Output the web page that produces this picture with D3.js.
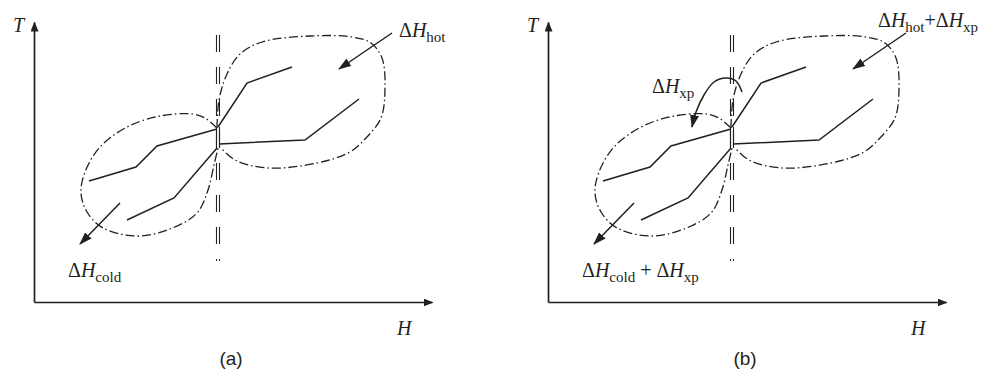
<!DOCTYPE html>
<html><head><meta charset="utf-8">
<script src="https://cdn.jsdelivr.net/npm/d3@7"></script>
<style>body{margin:0;background:#fff}</style>
</head><body>
<svg id="c" width="987" height="374"></svg>
<script>
// ---- data (H, T in schematic units) ----
const panelNames = ["(a)", "(b)"];
const hotUpper = [[184,175],[213,219],[258,235]];
const hotLower = [[185,158],[271,162],[325,203]];
const coldUpper = [[55,121],[102,135],[123,156],[183,173]];
const coldLower = [[93,82],[140,104],[183,154]];
const pinchH = [182.5, 185.5];
const pinchT = [41, 267];
const pinchSeg = [155, 175];
const hotEnvelope = [[183,174],[185,202],[193,228],[206,248],[228,260],[276,266],[318,265],[337,259],[348,244],[351,214],[347,184],[332,164],[316,150],[283,139],[234,134],[201,142],[187,154]];
const coldEnvelope = [[183,174],[171,184],[159,188],[126,186],[93,175],[66,155],[51,130],[47,109],[53,90],[69,74],[103,66],[136,73],[163,89],[174,112],[180,137],[184,154]];
const hotArrow = [[358,269],[305,233]];
const coldArrow = [[86,99],[46,58]];
const xpArrow = [[194,210],[188,221],[178,224],[166,220],[156,207],[148,190],[144,175]];
// label texts: [text, style] style: n normal, i italic, s subscript
const labelsA = [
  {pos:[365,265], parts:[["Δ","n"],["H","i"],["hot","s"]]},
  {pos:[34,25], parts:[["Δ","n"],["H","i"],["cold","s"]]}
];
const labelsB = [
  {pos:[330,275], parts:[["Δ","n"],["H","i"],["hot","s"],["+","n"],["Δ","n"],["H","i"],["xp","s"]]},
  {pos:[34,25], parts:[["Δ","n"],["H","i"],["cold","s"],[" + ","n"],["Δ","n"],["H","i"],["xp","s"]]},
  {pos:[104,209], parts:[["Δ","n"],["H","i"],["xp","s"]]}
];
const axisNames = ["T", "H"];

// ---- drawing ----
const svg = d3.select("#c");
const ink = "#231f20";
const x = d3.scaleLinear().domain([0,398]).range([34,432]);
const y = d3.scaleLinear().domain([0,280]).range([302,22]);

const defs = svg.append("defs");
defs.append("marker").attr("id","axh").attr("viewBox","0 0 10 8").attr("refX",9).attr("refY",4)
  .attr("markerWidth",10).attr("markerHeight",8).attr("markerUnits","userSpaceOnUse").attr("orient","auto")
  .append("path").attr("d","M0,0L10,4L0,8Z").attr("fill",ink);
defs.append("marker").attr("id","arh").attr("viewBox","0 0 13 9").attr("refX",12).attr("refY",4.5)
  .attr("markerWidth",13).attr("markerHeight",9).attr("markerUnits","userSpaceOnUse").attr("orient","auto")
  .append("path").attr("d","M0,0L13,4.5L0,9Z").attr("fill",ink);

const line = d3.line().x(d=>x(d[0])).y(d=>y(d[1]));
const smooth = d3.line().x(d=>x(d[0])).y(d=>y(d[1])).curve(d3.curveCatmullRom.alpha(0.5));

function label(g, l) {
  const t = g.append("text").attr("x", x(l.pos[0])).attr("y", y(l.pos[1]))
    .attr("font-family","'Liberation Serif', 'Times New Roman', serif").attr("fill", ink);
  let sub = false;
  l.parts.forEach(([txt, st]) => {
    const ts = t.append("tspan").text(txt).style("white-space","pre");
    if (st === "s") { ts.attr("font-size",15).attr("dy", sub ? 0 : 5); sub = true; }
    else { ts.attr("font-size",20).attr("dy", sub ? -5 : 0); sub = false; if (st==="i") ts.attr("font-style","italic"); }
  });
}

panelNames.forEach((name, pi) => {
  const g = svg.append("g").attr("transform", `translate(${pi*514},0)`);
  // axes
  const ax = g.append("g").attr("transform",`translate(0,${y(0)})`)
    .call(d3.axisBottom(x).tickValues([]).tickSizeOuter(0));
  const ay = g.append("g").attr("transform",`translate(${x(0)},0)`)
    .call(d3.axisLeft(y).tickValues([]).tickSizeOuter(0));
  [ax, ay].forEach(a => a.select(".domain").attr("stroke",ink).attr("stroke-width",1.7).attr("marker-end","url(#axh)"));
  g.append("text").attr("x", x(0)-21).attr("y", y(270)).text(axisNames[0])
    .attr("font-family","'Liberation Serif', serif").attr("font-style","italic").attr("font-size",20).attr("fill",ink);
  g.append("text").attr("x", x(363)).attr("y", y(-33)).text(axisNames[1])
    .attr("font-family","'Liberation Serif', serif").attr("font-style","italic").attr("font-size",20).attr("fill",ink);
  g.append("text").attr("x", x(197)).attr("y", y(-63)).attr("text-anchor","middle").text(name)
    .attr("font-family","'Liberation Sans', Arial, sans-serif").attr("font-size",19).attr("fill",ink);

  // pinch double dashed line
  pinchH.forEach(h => {
    g.append("path").attr("d", line([[h,pinchT[1]],[h,pinchT[0]]]))
      .attr("stroke",ink).attr("stroke-width",1.1).attr("fill","none").attr("stroke-dasharray","17 15");
    g.append("path").attr("d", line([[h,pinchSeg[1]],[h,pinchSeg[0]]]))
      .attr("stroke",ink).attr("stroke-width",1.1).attr("fill","none");
  });

  // composite curves
  [hotUpper, hotLower, coldUpper, coldLower].forEach(c => {
    g.append("path").attr("d", line(c)).attr("stroke",ink).attr("stroke-width",1.5).attr("fill","none");
  });

  // envelopes
  [hotEnvelope, coldEnvelope].forEach(e => {
    g.append("path").attr("d", smooth(e)).attr("stroke",ink).attr("stroke-width",1.3).attr("fill","none")
      .attr("stroke-dasharray","9 3 1.5 3");
  });

  // arrows
  [hotArrow, coldArrow].forEach(a => {
    g.append("path").attr("d", line(a)).attr("stroke",ink).attr("stroke-width",1.5).attr("fill","none")
      .attr("marker-end","url(#arh)");
  });
  if (pi === 1) {
    g.append("path").attr("d", smooth(xpArrow)).attr("stroke",ink).attr("stroke-width",1.5).attr("fill","none")
      .attr("marker-end","url(#arh)");
  }

  (pi === 0 ? labelsA : labelsB).forEach(l => label(g, l));
});
</script>
</body></html>
